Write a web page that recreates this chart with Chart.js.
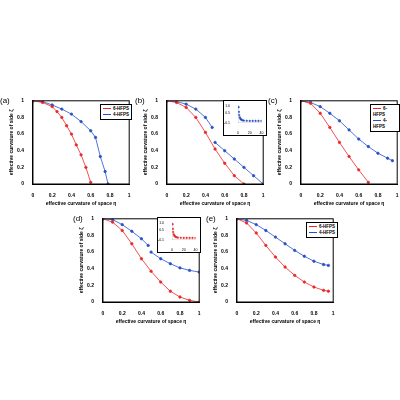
<!DOCTYPE html>
<html><head>
<script src="https://cdn.jsdelivr.net/npm/chart.js@4/dist/chart.umd.min.js"></script>
<style>
body{margin:0;background:#fff;font-family:"Liberation Sans",Arial,sans-serif}
.p{position:absolute;width:126px;height:112px}
.lb{position:absolute;font-size:8px;color:#000}
.ins{position:absolute;width:44px;height:36px;background:#fff;border:1.5px solid #000;box-sizing:border-box}
.lg{position:absolute;border:1px solid #000;background:#fff;font-size:4.5px;font-weight:bold;padding:1px 2px;line-height:6px}
.lg span{display:inline-block;width:8px;height:1px;vertical-align:middle;margin-right:2px}
</style></head><body>
<div class="p" style="left:8px;top:96px"><canvas id="ca"></canvas></div>
<div class="p" style="left:142px;top:96px"><canvas id="cb"></canvas></div>
<div class="p" style="left:276px;top:96px"><canvas id="cc"></canvas></div>
<div class="p" style="left:78px;top:214px"><canvas id="cd"></canvas></div>
<div class="p" style="left:212px;top:214px"><canvas id="ce"></canvas></div>
<div class="ins" style="left:223px;top:100px"><canvas id="ib"></canvas></div>
<div class="ins" style="left:157px;top:217px"><canvas id="id"></canvas></div>
<div class="lg" style="left:100px;top:104px"><div><span style="background:rgb(235,40,40)"></span>6-HFPS</div><div><span style="background:rgb(40,80,200)"></span>4-HFPS</div></div>
<div class="lg" style="left:370px;top:104px"><div><span style="background:rgb(235,40,40)"></span>6-HFPS</div><div><span style="background:rgb(40,80,200)"></span>4-HFPS</div></div>
<div class="lg" style="left:306px;top:222px"><div><span style="background:rgb(235,40,40)"></span>6-HFPS</div><div><span style="background:rgb(40,80,200)"></span>4-HFPS</div></div>
<div class="lb" style="left:0px;top:96px">(a)</div>
<div class="lb" style="left:135px;top:96px">(b)</div>
<div class="lb" style="left:268px;top:96px">(c)</div>
<div class="lb" style="left:73px;top:214px">(d)</div>
<div class="lb" style="left:206px;top:214px">(e)</div>
<script>
const red = "rgb(235,40,40)";
const blue = "rgb(40,80,200)";

const aRedX = [0, 0.1, 0.2, 0.25, 0.3, 0.35, 0.4, 0.45, 0.5, 0.55, 0.6];
const aRedY = [1, 0.98, 0.93, 0.87, 0.8, 0.7, 0.6, 0.47, 0.35, 0.2, 0.02];
const aBlueX = [0, 0.1, 0.2, 0.3, 0.4, 0.5, 0.6, 0.65, 0.7, 0.75, 0.78];
const aBlueY = [1, 0.99, 0.95, 0.9, 0.84, 0.75, 0.64, 0.56, 0.33, 0.15, 0];

const bRedX = [0, 0.1, 0.2, 0.3, 0.4, 0.5, 0.6, 0.7, 0.8];
const bRedY = [1, 0.98, 0.92, 0.8, 0.62, 0.42, 0.25, 0.1, 0];
const bBlueX = [0, 0.1, 0.2, 0.3, 0.4, 0.47, null, 0.5, 0.6, 0.7, 0.8, 0.9, 1.0];
const bBlueY = [1, 0.99, 0.96, 0.9, 0.8, 0.68, null, 0.5, 0.4, 0.3, 0.2, 0.1, 0];

const cRedX = [0, 0.1, 0.2, 0.3, 0.4, 0.5, 0.6, 0.7];
const cRedY = [1, 0.97, 0.85, 0.68, 0.5, 0.33, 0.17, 0.02];
const cBlueX = [0, 0.1, 0.2, 0.3, 0.4, 0.5, 0.6, 0.7, 0.8, 0.9, 0.95];
const cBlueY = [1, 0.98, 0.93, 0.85, 0.76, 0.65, 0.54, 0.45, 0.37, 0.31, 0.28];

const dRedX = [0, 0.1, 0.2, 0.3, 0.4, 0.5, 0.6, 0.7, 0.8, 0.9, 1.0];
const dRedY = [1, 0.96, 0.86, 0.7, 0.52, 0.37, 0.24, 0.13, 0.06, 0.02, 0];
const dBlueX = [0, 0.1, 0.2, 0.3, 0.4, 0.47, null, 0.5, 0.6, 0.7, 0.8, 0.9, 1.0];
const dBlueY = [1, 0.99, 0.93, 0.85, 0.76, 0.68, null, 0.6, 0.52, 0.46, 0.41, 0.38, 0.36];

const eRedX = [0, 0.1, 0.2, 0.3, 0.4, 0.5, 0.6, 0.7, 0.8, 0.9, 0.95];
const eRedY = [1, 0.95, 0.83, 0.68, 0.54, 0.42, 0.32, 0.24, 0.18, 0.14, 0.13];
const eBlueX = [0, 0.1, 0.2, 0.3, 0.4, 0.5, 0.6, 0.7, 0.8, 0.9, 0.95];
const eBlueY = [1, 0.98, 0.93, 0.86, 0.78, 0.7, 0.62, 0.55, 0.49, 0.45, 0.44];

const insetX = [1, 1.5, 2, 3, 4, 5, 6, 8, 10, 15, 20, 25, 30, 35, 40];
const insetY = [0.9, 0.6, 0.4, 0.25, 0.17, 0.12, 0.09, 0.06, 0.04, 0.03, 0.02, 0.02, 0.02, 0.02, 0.02];

const ticks = [0, 0.2, 0.4, 0.6, 0.8, 1];

function pts(xs, ys) {
    return xs.map((x, i) => (x === null ? { x: NaN, y: NaN } : { x: x, y: ys[i] }));
}

function series(label, color, xs, ys) {
    return {
        label: label, data: pts(xs, ys), borderColor: color, backgroundColor: color,
        borderWidth: 0.8, pointRadius: 1.2, spanGaps: false,
    };
}

// full box around the plot area
const frame = {
    id: "frame",
    afterDraw(chart) {
        const a = chart.chartArea, c = chart.ctx;
        c.save();
        c.strokeStyle = "#000";
        c.lineWidth = 1;
        c.strokeRect(a.left, a.top, a.right - a.left, a.bottom - a.top);
        c.restore();
    },
};

function panel(id, rx, ry, bx, by) {
    const f = { size: 5, weight: "bold", family: "Liberation Sans" };
    new Chart(document.getElementById(id), {
        type: "line",
        data: { datasets: [series("6-HFPS", red, rx, ry), series("4-HFPS", blue, bx, by)] },
        plugins: [frame],
        options: {
            animation: false, responsive: true, maintainAspectRatio: false,
            plugins: { legend: { display: false }, tooltip: { enabled: false } },
            scales: {
                x: {
                    type: "linear", min: 0, max: 1,
                    afterBuildTicks: (s) => { s.ticks = ticks.map((v) => ({ value: v })); },
                    ticks: { font: f, color: "#000", padding: 1, callback: (v) => String(v) },
                    grid: { display: false }, border: { color: "#000", width: 1 },
                    title: { display: true, text: "effective curvature of space η", font: f, color: "#000", padding: 1 },
                },
                y: {
                    min: 0, max: 1,
                    afterBuildTicks: (s) => { s.ticks = ticks.map((v) => ({ value: v })); },
                    ticks: { font: f, color: "#000", padding: 1, callback: (v) => String(v) },
                    grid: { display: false }, border: { color: "#000", width: 1 },
                    title: { display: true, text: "effective curvature of side ζ", font: f, color: "#000", padding: 1 },
                },
            },
        },
    });
}

function inset(id, color) {
    const f = { size: 3.5, family: "Liberation Sans" };
    new Chart(document.getElementById(id), {
        type: "line",
        data: { datasets: [{ data: pts(insetX, insetY), borderColor: color, backgroundColor: color, borderWidth: 0.6, pointRadius: 0.8, showLine: false }] },
        options: {
            animation: false, responsive: true, maintainAspectRatio: false,
            plugins: { legend: { display: false }, tooltip: { enabled: false } },
            scales: {
                x: { type: "linear", min: 0, max: 40, ticks: { font: f, stepSize: 20, color: "#000", padding: 0 }, grid: { display: false } },
                y: { min: -0.1, max: 1, ticks: { font: f, stepSize: 0.5, color: "#000", padding: 0 }, grid: { display: false } },
            },
        },
    });
}

panel("ca", aRedX, aRedY, aBlueX, aBlueY);
panel("cb", bRedX, bRedY, bBlueX, bBlueY);
panel("cc", cRedX, cRedY, cBlueX, cBlueY);
panel("cd", dRedX, dRedY, dBlueX, dBlueY);
panel("ce", eRedX, eRedY, eBlueX, eBlueY);
inset("ib", blue);
inset("id", red);
</script>
</body></html>
